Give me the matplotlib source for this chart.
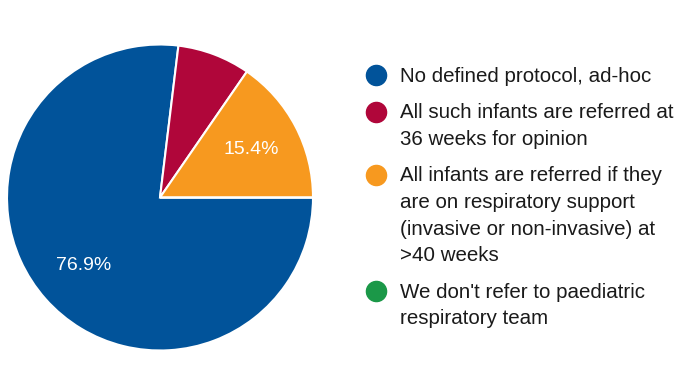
import matplotlib.pyplot as plt
from matplotlib.lines import Line2D

# Survey answers (counts of responses)
labels = [
    "No defined protocol, ad-hoc",
    "All such infants are referred at\n36 weeks for opinion",
    "All infants are referred if they\nare on respiratory support\n(invasive or non-invasive) at\n>40 weeks",
    "We don't refer to paediatric\nrespiratory team",
]
counts = [10, 1, 2, 0]
colors = ["#01539a", "#b0063a", "#f7991f", "#1b9848"]

plt.rcParams["font.family"] = ["Liberation Sans", "DejaVu Sans"]

W, H = 700, 379
fig = plt.figure(figsize=(W / 100, H / 100), dpi=100)

# pie occupies a square of ~306 px, centred at (160, 197) in pixel coords
cx, cy, r = 160, 197.5, 153
ax = fig.add_axes([(cx - r) / W, (H - cy - r) / H, 2 * r / W, 2 * r / H])


def pct(p):
    return f"{p:.1f}%" if p >= 10 else ""


ax.pie(counts, colors=colors, startangle=0, counterclock=False,
       autopct=pct, pctdistance=0.67, radius=1,
       wedgeprops=dict(edgecolor="white", linewidth=1.5),
       textprops=dict(color="white", fontsize=14))
ax.set_xlim(-1, 1)
ax.set_ylim(-1, 1)
ax.set_aspect("equal")
ax.axis("off")

# legend drawn by hand so markers sit on the first line of each entry
line_h = 26.6
gap = 10
y = 75
for lab, col in zip(labels, colors):
    fig.add_artist(Line2D([376 / W], [1 - y / H], marker="o", markersize=14.5,
                          color=col, linestyle="none", transform=fig.transFigure))
    fig.text(400 / W, 1 - (y - 8.5) / H, lab, fontsize=14.8, color="#1a1a1a",
             va="top", ha="left", linespacing=1.51)
    y += line_h * (lab.count("\n") + 1) + gap

fig.savefig("out.png", dpi=100)
